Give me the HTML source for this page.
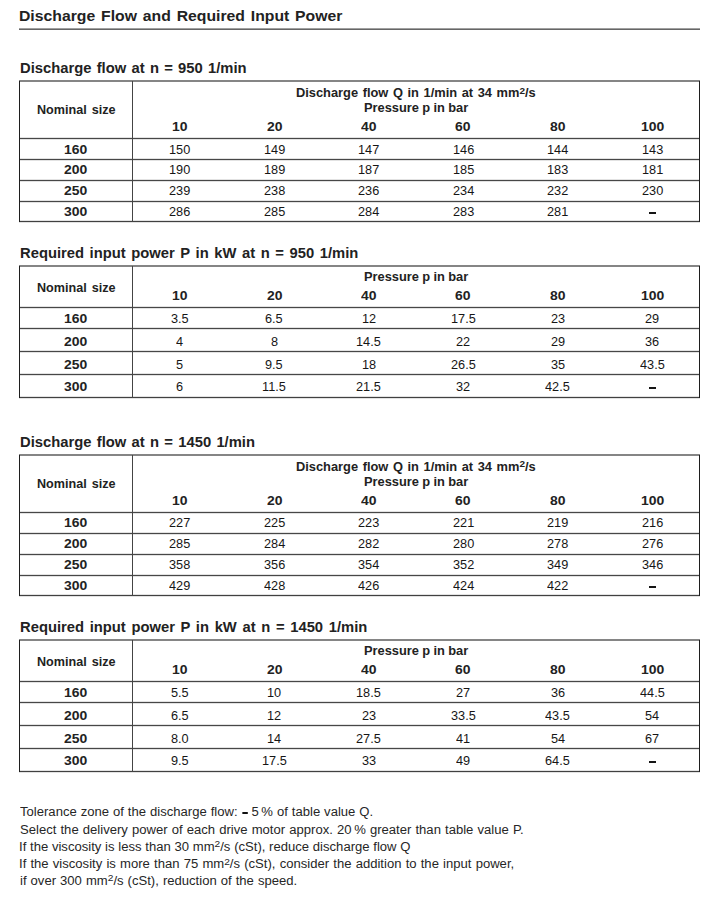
<!DOCTYPE html>
<html><head><meta charset="utf-8"><style>
html,body{margin:0;padding:0;background:#fff;}
body{width:725px;height:899px;position:relative;overflow:hidden;font-family:'Liberation Sans', sans-serif;color:#161616;}
.t{position:absolute;white-space:nowrap;transform-origin:0 0;}
.l{position:absolute;}
.dash{display:inline-block;width:5px;height:2px;background:#111;vertical-align:2px;margin-left:0.8px;margin-right:0.87px;}
.sup{font-size:78%;position:relative;top:-0.36em;}
</style></head><body>
<div class="l" style="left:19px;top:28px;width:681px;height:1px;background:#a0a0a0"></div>
<div class="l" style="left:19px;top:29px;width:681px;height:1px;background:#666666"></div>
<div class="l" style="left:19px;top:80px;width:681px;height:2px;background:#858585"></div>
<div class="l" style="left:19px;top:138px;width:681px;height:1px;background:#474747;box-shadow:0 -1px 0 #e2e2e2,0 1px 0 #e2e2e2"></div>
<div class="l" style="left:19px;top:159px;width:681px;height:1px;background:#474747;box-shadow:0 -1px 0 #e2e2e2,0 1px 0 #e2e2e2"></div>
<div class="l" style="left:19px;top:180px;width:681px;height:1px;background:#474747;box-shadow:0 -1px 0 #e2e2e2,0 1px 0 #e2e2e2"></div>
<div class="l" style="left:19px;top:201px;width:681px;height:1px;background:#474747;box-shadow:0 -1px 0 #e2e2e2,0 1px 0 #e2e2e2"></div>
<div class="l" style="left:19px;top:221px;width:681px;height:1px;background:#404040;box-shadow:0 -1px 0 #e2e2e2,0 1px 0 #e2e2e2"></div>
<div class="l" style="left:19px;top:81px;width:1px;height:141px;background:#1e1e1e"></div>
<div class="l" style="left:699px;top:81px;width:1px;height:141px;background:#1e1e1e"></div>
<div class="l" style="left:132px;top:81px;width:1px;height:141px;background:#444444"></div>
<div class="l" style="left:649px;top:212px;width:7px;height:2px;background:#151515"></div>
<div class="l" style="left:19px;top:265px;width:681px;height:2px;background:#858585"></div>
<div class="l" style="left:19px;top:307px;width:681px;height:1px;background:#474747;box-shadow:0 -1px 0 #e2e2e2,0 1px 0 #e2e2e2"></div>
<div class="l" style="left:19px;top:328px;width:681px;height:1px;background:#474747;box-shadow:0 -1px 0 #e2e2e2,0 1px 0 #e2e2e2"></div>
<div class="l" style="left:19px;top:351px;width:681px;height:1px;background:#474747;box-shadow:0 -1px 0 #e2e2e2,0 1px 0 #e2e2e2"></div>
<div class="l" style="left:19px;top:374px;width:681px;height:1px;background:#474747;box-shadow:0 -1px 0 #e2e2e2,0 1px 0 #e2e2e2"></div>
<div class="l" style="left:19px;top:397px;width:681px;height:1px;background:#404040;box-shadow:0 -1px 0 #e2e2e2,0 1px 0 #e2e2e2"></div>
<div class="l" style="left:19px;top:266px;width:1px;height:132px;background:#1e1e1e"></div>
<div class="l" style="left:699px;top:266px;width:1px;height:132px;background:#1e1e1e"></div>
<div class="l" style="left:132px;top:266px;width:1px;height:132px;background:#444444"></div>
<div class="l" style="left:649px;top:387px;width:7px;height:2px;background:#151515"></div>
<div class="l" style="left:19px;top:454px;width:681px;height:2px;background:#858585"></div>
<div class="l" style="left:19px;top:512px;width:681px;height:1px;background:#474747;box-shadow:0 -1px 0 #e2e2e2,0 1px 0 #e2e2e2"></div>
<div class="l" style="left:19px;top:533px;width:681px;height:1px;background:#474747;box-shadow:0 -1px 0 #e2e2e2,0 1px 0 #e2e2e2"></div>
<div class="l" style="left:19px;top:554px;width:681px;height:1px;background:#474747;box-shadow:0 -1px 0 #e2e2e2,0 1px 0 #e2e2e2"></div>
<div class="l" style="left:19px;top:575px;width:681px;height:1px;background:#474747;box-shadow:0 -1px 0 #e2e2e2,0 1px 0 #e2e2e2"></div>
<div class="l" style="left:19px;top:595px;width:681px;height:1px;background:#404040;box-shadow:0 -1px 0 #e2e2e2,0 1px 0 #e2e2e2"></div>
<div class="l" style="left:19px;top:455px;width:1px;height:141px;background:#1e1e1e"></div>
<div class="l" style="left:699px;top:455px;width:1px;height:141px;background:#1e1e1e"></div>
<div class="l" style="left:132px;top:455px;width:1px;height:141px;background:#444444"></div>
<div class="l" style="left:649px;top:586px;width:7px;height:2px;background:#151515"></div>
<div class="l" style="left:19px;top:639px;width:681px;height:2px;background:#858585"></div>
<div class="l" style="left:19px;top:681px;width:681px;height:1px;background:#474747;box-shadow:0 -1px 0 #e2e2e2,0 1px 0 #e2e2e2"></div>
<div class="l" style="left:19px;top:702px;width:681px;height:1px;background:#474747;box-shadow:0 -1px 0 #e2e2e2,0 1px 0 #e2e2e2"></div>
<div class="l" style="left:19px;top:725px;width:681px;height:1px;background:#474747;box-shadow:0 -1px 0 #e2e2e2,0 1px 0 #e2e2e2"></div>
<div class="l" style="left:19px;top:748px;width:681px;height:1px;background:#474747;box-shadow:0 -1px 0 #e2e2e2,0 1px 0 #e2e2e2"></div>
<div class="l" style="left:19px;top:771px;width:681px;height:1px;background:#404040;box-shadow:0 -1px 0 #e2e2e2,0 1px 0 #e2e2e2"></div>
<div class="l" style="left:19px;top:640px;width:1px;height:132px;background:#1e1e1e"></div>
<div class="l" style="left:699px;top:640px;width:1px;height:132px;background:#1e1e1e"></div>
<div class="l" style="left:132px;top:640px;width:1px;height:132px;background:#444444"></div>
<div class="l" style="left:649px;top:761px;width:7px;height:2px;background:#151515"></div>
<div class="t" style="left:19.45px;top:8.30px;font-size:15px;line-height:15px;font-weight:bold;color:#222222;transform:scaleX(1.0500);word-spacing:1.422px;">Discharge Flow and Required Input Power</div>
<div class="t" style="left:20.00px;top:60.55px;font-size:14px;line-height:14px;font-weight:bold;color:#222222;transform:scaleX(1.0550);word-spacing:1.107px;">Discharge flow at n = 950 1/min</div>
<div class="t" style="left:36.80px;top:103.54px;font-size:12.0px;line-height:12.0px;font-weight:bold;color:#222222;transform:scaleX(1.0500);word-spacing:1.368px;">Nominal size</div>
<div class="t" style="left:296.00px;top:87.24px;font-size:12.0px;line-height:12.0px;font-weight:bold;color:#222222;transform:scaleX(1.0700);word-spacing:0.959px;">Discharge flow Q in 1/min at 34 mm<span class="sup">2</span>/s</div>
<div class="t" style="left:363.60px;top:102.44px;font-size:12.0px;line-height:12.0px;font-weight:bold;color:#222222;transform:scaleX(1.0700);word-spacing:-0.204px;">Pressure p in bar</div>
<div class="t" style="left:172.07px;top:120.64px;font-size:12.0px;line-height:12.0px;font-weight:bold;color:#222222;transform:scaleX(1.1600);">10</div>
<div class="t" style="left:266.53px;top:120.64px;font-size:12.0px;line-height:12.0px;font-weight:bold;color:#222222;transform:scaleX(1.1600);">20</div>
<div class="t" style="left:360.99px;top:120.64px;font-size:12.0px;line-height:12.0px;font-weight:bold;color:#222222;transform:scaleX(1.1600);">40</div>
<div class="t" style="left:455.45px;top:120.64px;font-size:12.0px;line-height:12.0px;font-weight:bold;color:#222222;transform:scaleX(1.1600);">60</div>
<div class="t" style="left:549.91px;top:120.64px;font-size:12.0px;line-height:12.0px;font-weight:bold;color:#222222;transform:scaleX(1.1600);">80</div>
<div class="t" style="left:640.50px;top:120.64px;font-size:12.0px;line-height:12.0px;font-weight:bold;color:#222222;transform:scaleX(1.1600);">100</div>
<div class="t" style="left:64.30px;top:143.64px;font-size:12.0px;line-height:12.0px;font-weight:bold;color:#222222;transform:scaleX(1.1600);">160</div>
<div class="t" style="left:169.22px;top:143.64px;font-size:12.0px;line-height:12.0px;transform:scaleX(1.0600);">150</div>
<div class="t" style="left:263.68px;top:143.64px;font-size:12.0px;line-height:12.0px;transform:scaleX(1.0600);">149</div>
<div class="t" style="left:358.14px;top:143.64px;font-size:12.0px;line-height:12.0px;transform:scaleX(1.0600);">147</div>
<div class="t" style="left:452.60px;top:143.64px;font-size:12.0px;line-height:12.0px;transform:scaleX(1.0600);">146</div>
<div class="t" style="left:547.06px;top:143.64px;font-size:12.0px;line-height:12.0px;transform:scaleX(1.0600);">144</div>
<div class="t" style="left:641.52px;top:143.64px;font-size:12.0px;line-height:12.0px;transform:scaleX(1.0600);">143</div>
<div class="t" style="left:64.30px;top:164.44px;font-size:12.0px;line-height:12.0px;font-weight:bold;color:#222222;transform:scaleX(1.1600);">200</div>
<div class="t" style="left:169.22px;top:164.44px;font-size:12.0px;line-height:12.0px;transform:scaleX(1.0600);">190</div>
<div class="t" style="left:263.68px;top:164.44px;font-size:12.0px;line-height:12.0px;transform:scaleX(1.0600);">189</div>
<div class="t" style="left:358.14px;top:164.44px;font-size:12.0px;line-height:12.0px;transform:scaleX(1.0600);">187</div>
<div class="t" style="left:452.60px;top:164.44px;font-size:12.0px;line-height:12.0px;transform:scaleX(1.0600);">185</div>
<div class="t" style="left:547.06px;top:164.44px;font-size:12.0px;line-height:12.0px;transform:scaleX(1.0600);">183</div>
<div class="t" style="left:641.52px;top:164.44px;font-size:12.0px;line-height:12.0px;transform:scaleX(1.0600);">181</div>
<div class="t" style="left:64.30px;top:185.24px;font-size:12.0px;line-height:12.0px;font-weight:bold;color:#222222;transform:scaleX(1.1600);">250</div>
<div class="t" style="left:169.22px;top:185.24px;font-size:12.0px;line-height:12.0px;transform:scaleX(1.0600);">239</div>
<div class="t" style="left:263.68px;top:185.24px;font-size:12.0px;line-height:12.0px;transform:scaleX(1.0600);">238</div>
<div class="t" style="left:358.14px;top:185.24px;font-size:12.0px;line-height:12.0px;transform:scaleX(1.0600);">236</div>
<div class="t" style="left:452.60px;top:185.24px;font-size:12.0px;line-height:12.0px;transform:scaleX(1.0600);">234</div>
<div class="t" style="left:547.06px;top:185.24px;font-size:12.0px;line-height:12.0px;transform:scaleX(1.0600);">232</div>
<div class="t" style="left:641.52px;top:185.24px;font-size:12.0px;line-height:12.0px;transform:scaleX(1.0600);">230</div>
<div class="t" style="left:64.30px;top:205.84px;font-size:12.0px;line-height:12.0px;font-weight:bold;color:#222222;transform:scaleX(1.1600);">300</div>
<div class="t" style="left:169.22px;top:205.84px;font-size:12.0px;line-height:12.0px;transform:scaleX(1.0600);">286</div>
<div class="t" style="left:263.68px;top:205.84px;font-size:12.0px;line-height:12.0px;transform:scaleX(1.0600);">285</div>
<div class="t" style="left:358.14px;top:205.84px;font-size:12.0px;line-height:12.0px;transform:scaleX(1.0600);">284</div>
<div class="t" style="left:452.60px;top:205.84px;font-size:12.0px;line-height:12.0px;transform:scaleX(1.0600);">283</div>
<div class="t" style="left:547.06px;top:205.84px;font-size:12.0px;line-height:12.0px;transform:scaleX(1.0600);">281</div>
<div class="t" style="left:20.00px;top:246.15px;font-size:14px;line-height:14px;font-weight:bold;color:#222222;transform:scaleX(1.0550);word-spacing:1.405px;">Required input power P in kW at n = 950 1/min</div>
<div class="t" style="left:36.80px;top:281.84px;font-size:12.0px;line-height:12.0px;font-weight:bold;color:#222222;transform:scaleX(1.0500);word-spacing:1.368px;">Nominal size</div>
<div class="t" style="left:363.60px;top:270.84px;font-size:12.0px;line-height:12.0px;font-weight:bold;color:#222222;transform:scaleX(1.0700);word-spacing:-0.204px;">Pressure p in bar</div>
<div class="t" style="left:172.07px;top:289.84px;font-size:12.0px;line-height:12.0px;font-weight:bold;color:#222222;transform:scaleX(1.1600);">10</div>
<div class="t" style="left:266.53px;top:289.84px;font-size:12.0px;line-height:12.0px;font-weight:bold;color:#222222;transform:scaleX(1.1600);">20</div>
<div class="t" style="left:360.99px;top:289.84px;font-size:12.0px;line-height:12.0px;font-weight:bold;color:#222222;transform:scaleX(1.1600);">40</div>
<div class="t" style="left:455.45px;top:289.84px;font-size:12.0px;line-height:12.0px;font-weight:bold;color:#222222;transform:scaleX(1.1600);">60</div>
<div class="t" style="left:549.91px;top:289.84px;font-size:12.0px;line-height:12.0px;font-weight:bold;color:#222222;transform:scaleX(1.1600);">80</div>
<div class="t" style="left:640.50px;top:289.84px;font-size:12.0px;line-height:12.0px;font-weight:bold;color:#222222;transform:scaleX(1.1600);">100</div>
<div class="t" style="left:64.30px;top:312.84px;font-size:12.0px;line-height:12.0px;font-weight:bold;color:#222222;transform:scaleX(1.1600);">160</div>
<div class="t" style="left:170.99px;top:312.84px;font-size:12.0px;line-height:12.0px;transform:scaleX(1.0600);">3.5</div>
<div class="t" style="left:265.45px;top:312.84px;font-size:12.0px;line-height:12.0px;transform:scaleX(1.0600);">6.5</div>
<div class="t" style="left:361.67px;top:312.84px;font-size:12.0px;line-height:12.0px;transform:scaleX(1.0600);">12</div>
<div class="t" style="left:450.83px;top:312.84px;font-size:12.0px;line-height:12.0px;transform:scaleX(1.0600);">17.5</div>
<div class="t" style="left:550.59px;top:312.84px;font-size:12.0px;line-height:12.0px;transform:scaleX(1.0600);">23</div>
<div class="t" style="left:645.05px;top:312.84px;font-size:12.0px;line-height:12.0px;transform:scaleX(1.0600);">29</div>
<div class="t" style="left:64.30px;top:336.44px;font-size:12.0px;line-height:12.0px;font-weight:bold;color:#222222;transform:scaleX(1.1600);">200</div>
<div class="t" style="left:176.29px;top:336.44px;font-size:12.0px;line-height:12.0px;transform:scaleX(1.0600);">4</div>
<div class="t" style="left:270.75px;top:336.44px;font-size:12.0px;line-height:12.0px;transform:scaleX(1.0600);">8</div>
<div class="t" style="left:356.37px;top:336.44px;font-size:12.0px;line-height:12.0px;transform:scaleX(1.0600);">14.5</div>
<div class="t" style="left:456.13px;top:336.44px;font-size:12.0px;line-height:12.0px;transform:scaleX(1.0600);">22</div>
<div class="t" style="left:550.59px;top:336.44px;font-size:12.0px;line-height:12.0px;transform:scaleX(1.0600);">29</div>
<div class="t" style="left:645.05px;top:336.44px;font-size:12.0px;line-height:12.0px;transform:scaleX(1.0600);">36</div>
<div class="t" style="left:64.30px;top:359.44px;font-size:12.0px;line-height:12.0px;font-weight:bold;color:#222222;transform:scaleX(1.1600);">250</div>
<div class="t" style="left:176.29px;top:359.44px;font-size:12.0px;line-height:12.0px;transform:scaleX(1.0600);">5</div>
<div class="t" style="left:265.45px;top:359.44px;font-size:12.0px;line-height:12.0px;transform:scaleX(1.0600);">9.5</div>
<div class="t" style="left:361.67px;top:359.44px;font-size:12.0px;line-height:12.0px;transform:scaleX(1.0600);">18</div>
<div class="t" style="left:450.83px;top:359.44px;font-size:12.0px;line-height:12.0px;transform:scaleX(1.0600);">26.5</div>
<div class="t" style="left:550.59px;top:359.44px;font-size:12.0px;line-height:12.0px;transform:scaleX(1.0600);">35</div>
<div class="t" style="left:639.75px;top:359.44px;font-size:12.0px;line-height:12.0px;transform:scaleX(1.0600);">43.5</div>
<div class="t" style="left:64.30px;top:381.34px;font-size:12.0px;line-height:12.0px;font-weight:bold;color:#222222;transform:scaleX(1.1600);">300</div>
<div class="t" style="left:176.29px;top:381.34px;font-size:12.0px;line-height:12.0px;transform:scaleX(1.0600);">6</div>
<div class="t" style="left:262.38px;top:381.34px;font-size:12.0px;line-height:12.0px;transform:scaleX(1.0600);">11.5</div>
<div class="t" style="left:356.37px;top:381.34px;font-size:12.0px;line-height:12.0px;transform:scaleX(1.0600);">21.5</div>
<div class="t" style="left:456.13px;top:381.34px;font-size:12.0px;line-height:12.0px;transform:scaleX(1.0600);">32</div>
<div class="t" style="left:545.29px;top:381.34px;font-size:12.0px;line-height:12.0px;transform:scaleX(1.0600);">42.5</div>
<div class="t" style="left:20.00px;top:434.95px;font-size:14px;line-height:14px;font-weight:bold;color:#222222;transform:scaleX(1.0550);word-spacing:1.136px;">Discharge flow at n = 1450 1/min</div>
<div class="t" style="left:36.80px;top:477.84px;font-size:12.0px;line-height:12.0px;font-weight:bold;color:#222222;transform:scaleX(1.0500);word-spacing:1.368px;">Nominal size</div>
<div class="t" style="left:296.00px;top:460.84px;font-size:12.0px;line-height:12.0px;font-weight:bold;color:#222222;transform:scaleX(1.0700);word-spacing:0.959px;">Discharge flow Q in 1/min at 34 mm<span class="sup">2</span>/s</div>
<div class="t" style="left:363.60px;top:475.84px;font-size:12.0px;line-height:12.0px;font-weight:bold;color:#222222;transform:scaleX(1.0700);word-spacing:-0.204px;">Pressure p in bar</div>
<div class="t" style="left:172.07px;top:495.44px;font-size:12.0px;line-height:12.0px;font-weight:bold;color:#222222;transform:scaleX(1.1600);">10</div>
<div class="t" style="left:266.53px;top:495.44px;font-size:12.0px;line-height:12.0px;font-weight:bold;color:#222222;transform:scaleX(1.1600);">20</div>
<div class="t" style="left:360.99px;top:495.44px;font-size:12.0px;line-height:12.0px;font-weight:bold;color:#222222;transform:scaleX(1.1600);">40</div>
<div class="t" style="left:455.45px;top:495.44px;font-size:12.0px;line-height:12.0px;font-weight:bold;color:#222222;transform:scaleX(1.1600);">60</div>
<div class="t" style="left:549.91px;top:495.44px;font-size:12.0px;line-height:12.0px;font-weight:bold;color:#222222;transform:scaleX(1.1600);">80</div>
<div class="t" style="left:640.50px;top:495.44px;font-size:12.0px;line-height:12.0px;font-weight:bold;color:#222222;transform:scaleX(1.1600);">100</div>
<div class="t" style="left:64.30px;top:517.14px;font-size:12.0px;line-height:12.0px;font-weight:bold;color:#222222;transform:scaleX(1.1600);">160</div>
<div class="t" style="left:169.22px;top:517.14px;font-size:12.0px;line-height:12.0px;transform:scaleX(1.0600);">227</div>
<div class="t" style="left:263.68px;top:517.14px;font-size:12.0px;line-height:12.0px;transform:scaleX(1.0600);">225</div>
<div class="t" style="left:358.14px;top:517.14px;font-size:12.0px;line-height:12.0px;transform:scaleX(1.0600);">223</div>
<div class="t" style="left:452.60px;top:517.14px;font-size:12.0px;line-height:12.0px;transform:scaleX(1.0600);">221</div>
<div class="t" style="left:547.06px;top:517.14px;font-size:12.0px;line-height:12.0px;transform:scaleX(1.0600);">219</div>
<div class="t" style="left:641.52px;top:517.14px;font-size:12.0px;line-height:12.0px;transform:scaleX(1.0600);">216</div>
<div class="t" style="left:64.30px;top:537.84px;font-size:12.0px;line-height:12.0px;font-weight:bold;color:#222222;transform:scaleX(1.1600);">200</div>
<div class="t" style="left:169.22px;top:537.84px;font-size:12.0px;line-height:12.0px;transform:scaleX(1.0600);">285</div>
<div class="t" style="left:263.68px;top:537.84px;font-size:12.0px;line-height:12.0px;transform:scaleX(1.0600);">284</div>
<div class="t" style="left:358.14px;top:537.84px;font-size:12.0px;line-height:12.0px;transform:scaleX(1.0600);">282</div>
<div class="t" style="left:452.60px;top:537.84px;font-size:12.0px;line-height:12.0px;transform:scaleX(1.0600);">280</div>
<div class="t" style="left:547.06px;top:537.84px;font-size:12.0px;line-height:12.0px;transform:scaleX(1.0600);">278</div>
<div class="t" style="left:641.52px;top:537.84px;font-size:12.0px;line-height:12.0px;transform:scaleX(1.0600);">276</div>
<div class="t" style="left:64.30px;top:559.34px;font-size:12.0px;line-height:12.0px;font-weight:bold;color:#222222;transform:scaleX(1.1600);">250</div>
<div class="t" style="left:169.22px;top:559.34px;font-size:12.0px;line-height:12.0px;transform:scaleX(1.0600);">358</div>
<div class="t" style="left:263.68px;top:559.34px;font-size:12.0px;line-height:12.0px;transform:scaleX(1.0600);">356</div>
<div class="t" style="left:358.14px;top:559.34px;font-size:12.0px;line-height:12.0px;transform:scaleX(1.0600);">354</div>
<div class="t" style="left:452.60px;top:559.34px;font-size:12.0px;line-height:12.0px;transform:scaleX(1.0600);">352</div>
<div class="t" style="left:547.06px;top:559.34px;font-size:12.0px;line-height:12.0px;transform:scaleX(1.0600);">349</div>
<div class="t" style="left:641.52px;top:559.34px;font-size:12.0px;line-height:12.0px;transform:scaleX(1.0600);">346</div>
<div class="t" style="left:64.30px;top:580.34px;font-size:12.0px;line-height:12.0px;font-weight:bold;color:#222222;transform:scaleX(1.1600);">300</div>
<div class="t" style="left:169.22px;top:580.34px;font-size:12.0px;line-height:12.0px;transform:scaleX(1.0600);">429</div>
<div class="t" style="left:263.68px;top:580.34px;font-size:12.0px;line-height:12.0px;transform:scaleX(1.0600);">428</div>
<div class="t" style="left:358.14px;top:580.34px;font-size:12.0px;line-height:12.0px;transform:scaleX(1.0600);">426</div>
<div class="t" style="left:452.60px;top:580.34px;font-size:12.0px;line-height:12.0px;transform:scaleX(1.0600);">424</div>
<div class="t" style="left:547.06px;top:580.34px;font-size:12.0px;line-height:12.0px;transform:scaleX(1.0600);">422</div>
<div class="t" style="left:20.00px;top:619.95px;font-size:14px;line-height:14px;font-weight:bold;color:#222222;transform:scaleX(1.0550);word-spacing:1.479px;">Required input power P in kW at n = 1450 1/min</div>
<div class="t" style="left:36.80px;top:655.84px;font-size:12.0px;line-height:12.0px;font-weight:bold;color:#222222;transform:scaleX(1.0500);word-spacing:1.368px;">Nominal size</div>
<div class="t" style="left:363.60px;top:644.84px;font-size:12.0px;line-height:12.0px;font-weight:bold;color:#222222;transform:scaleX(1.0700);word-spacing:-0.204px;">Pressure p in bar</div>
<div class="t" style="left:172.07px;top:664.44px;font-size:12.0px;line-height:12.0px;font-weight:bold;color:#222222;transform:scaleX(1.1600);">10</div>
<div class="t" style="left:266.53px;top:664.44px;font-size:12.0px;line-height:12.0px;font-weight:bold;color:#222222;transform:scaleX(1.1600);">20</div>
<div class="t" style="left:360.99px;top:664.44px;font-size:12.0px;line-height:12.0px;font-weight:bold;color:#222222;transform:scaleX(1.1600);">40</div>
<div class="t" style="left:455.45px;top:664.44px;font-size:12.0px;line-height:12.0px;font-weight:bold;color:#222222;transform:scaleX(1.1600);">60</div>
<div class="t" style="left:549.91px;top:664.44px;font-size:12.0px;line-height:12.0px;font-weight:bold;color:#222222;transform:scaleX(1.1600);">80</div>
<div class="t" style="left:640.50px;top:664.44px;font-size:12.0px;line-height:12.0px;font-weight:bold;color:#222222;transform:scaleX(1.1600);">100</div>
<div class="t" style="left:64.30px;top:687.34px;font-size:12.0px;line-height:12.0px;font-weight:bold;color:#222222;transform:scaleX(1.1600);">160</div>
<div class="t" style="left:170.99px;top:687.34px;font-size:12.0px;line-height:12.0px;transform:scaleX(1.0600);">5.5</div>
<div class="t" style="left:267.21px;top:687.34px;font-size:12.0px;line-height:12.0px;transform:scaleX(1.0600);">10</div>
<div class="t" style="left:356.37px;top:687.34px;font-size:12.0px;line-height:12.0px;transform:scaleX(1.0600);">18.5</div>
<div class="t" style="left:456.13px;top:687.34px;font-size:12.0px;line-height:12.0px;transform:scaleX(1.0600);">27</div>
<div class="t" style="left:550.59px;top:687.34px;font-size:12.0px;line-height:12.0px;transform:scaleX(1.0600);">36</div>
<div class="t" style="left:639.75px;top:687.34px;font-size:12.0px;line-height:12.0px;transform:scaleX(1.0600);">44.5</div>
<div class="t" style="left:64.30px;top:710.34px;font-size:12.0px;line-height:12.0px;font-weight:bold;color:#222222;transform:scaleX(1.1600);">200</div>
<div class="t" style="left:170.99px;top:710.34px;font-size:12.0px;line-height:12.0px;transform:scaleX(1.0600);">6.5</div>
<div class="t" style="left:267.21px;top:710.34px;font-size:12.0px;line-height:12.0px;transform:scaleX(1.0600);">12</div>
<div class="t" style="left:361.67px;top:710.34px;font-size:12.0px;line-height:12.0px;transform:scaleX(1.0600);">23</div>
<div class="t" style="left:450.83px;top:710.34px;font-size:12.0px;line-height:12.0px;transform:scaleX(1.0600);">33.5</div>
<div class="t" style="left:545.29px;top:710.34px;font-size:12.0px;line-height:12.0px;transform:scaleX(1.0600);">43.5</div>
<div class="t" style="left:645.05px;top:710.34px;font-size:12.0px;line-height:12.0px;transform:scaleX(1.0600);">54</div>
<div class="t" style="left:64.30px;top:733.34px;font-size:12.0px;line-height:12.0px;font-weight:bold;color:#222222;transform:scaleX(1.1600);">250</div>
<div class="t" style="left:170.99px;top:733.34px;font-size:12.0px;line-height:12.0px;transform:scaleX(1.0600);">8.0</div>
<div class="t" style="left:267.21px;top:733.34px;font-size:12.0px;line-height:12.0px;transform:scaleX(1.0600);">14</div>
<div class="t" style="left:356.37px;top:733.34px;font-size:12.0px;line-height:12.0px;transform:scaleX(1.0600);">27.5</div>
<div class="t" style="left:456.13px;top:733.34px;font-size:12.0px;line-height:12.0px;transform:scaleX(1.0600);">41</div>
<div class="t" style="left:550.59px;top:733.34px;font-size:12.0px;line-height:12.0px;transform:scaleX(1.0600);">54</div>
<div class="t" style="left:645.05px;top:733.34px;font-size:12.0px;line-height:12.0px;transform:scaleX(1.0600);">67</div>
<div class="t" style="left:64.30px;top:755.34px;font-size:12.0px;line-height:12.0px;font-weight:bold;color:#222222;transform:scaleX(1.1600);">300</div>
<div class="t" style="left:170.99px;top:755.34px;font-size:12.0px;line-height:12.0px;transform:scaleX(1.0600);">9.5</div>
<div class="t" style="left:261.91px;top:755.34px;font-size:12.0px;line-height:12.0px;transform:scaleX(1.0600);">17.5</div>
<div class="t" style="left:361.67px;top:755.34px;font-size:12.0px;line-height:12.0px;transform:scaleX(1.0600);">33</div>
<div class="t" style="left:456.13px;top:755.34px;font-size:12.0px;line-height:12.0px;transform:scaleX(1.0600);">49</div>
<div class="t" style="left:545.29px;top:755.34px;font-size:12.0px;line-height:12.0px;transform:scaleX(1.0600);">64.5</div>
<div class="t" style="left:20.00px;top:805.84px;font-size:12px;line-height:12px;color:#262626;transform:scaleX(1.0900);word-spacing:0.301px;">Tolerance zone of the discharge flow: <span class="dash"></span> 5 % of table value Q.</div>
<div class="t" style="left:20.00px;top:824.04px;font-size:12px;line-height:12px;color:#262626;transform:scaleX(1.0900);word-spacing:0.443px;">Select the delivery power of each drive motor approx. 20 % greater than table value P.</div>
<div class="t" style="left:18.91px;top:840.74px;font-size:12px;line-height:12px;color:#262626;transform:scaleX(1.0900);word-spacing:0.095px;">If the viscosity is less than 30 mm<span class="sup">2</span>/s (cSt), reduce discharge flow Q</div>
<div class="t" style="left:18.91px;top:858.24px;font-size:12px;line-height:12px;color:#262626;transform:scaleX(1.0900);word-spacing:0.502px;">If the viscosity is more than 75 mm<span class="sup">2</span>/s (cSt), consider the addition to the input power,</div>
<div class="t" style="left:20.00px;top:874.54px;font-size:12px;line-height:12px;color:#262626;transform:scaleX(1.0900);word-spacing:0.371px;">if over 300 mm<span class="sup">2</span>/s (cSt), reduction of the speed.</div>
</body></html>
